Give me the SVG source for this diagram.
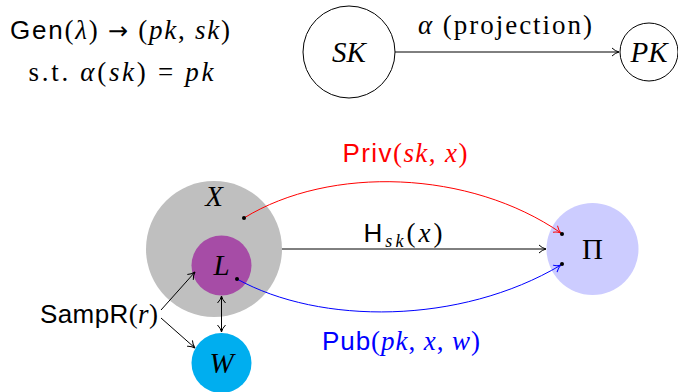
<svg xmlns="http://www.w3.org/2000/svg" width="678" height="392" viewBox="0 0 678 392">
<style>
text{font-family:"Liberation Serif","DejaVu Serif",serif;font-size:27px;fill:#000}
.sf{font-family:"Liberation Sans","DejaVu Sans",sans-serif;font-style:normal;font-size:26px}
.it{font-style:italic}
.c{text-anchor:middle}
.nl{font-size:29px}
.ln{fill:none;stroke:#000;stroke-width:1}
</style>
<defs>
<marker id="ahk" viewBox="0 0 10 10" refX="9" refY="5" markerWidth="10" markerHeight="10" markerUnits="userSpaceOnUse" orient="auto-start-reverse">
<path d="M2,1 Q5,4 9,5 Q5,6 2,9" fill="none" stroke="#000" stroke-width="1"/>
</marker>
<marker id="ahr" viewBox="0 0 10 10" refX="9" refY="5" markerWidth="10" markerHeight="10" markerUnits="userSpaceOnUse" orient="auto">
<path d="M2,1 Q5,4 9,5 Q5,6 2,9" fill="none" stroke="#f00" stroke-width="1"/>
</marker>
<marker id="ahb" viewBox="0 0 10 10" refX="9" refY="5" markerWidth="10" markerHeight="10" markerUnits="userSpaceOnUse" orient="auto">
<path d="M2,1 Q5,4 9,5 Q5,6 2,9" fill="none" stroke="#00f" stroke-width="1"/>
</marker>
</defs>

<g id="gen-text">
<text class="c" x="120" y="39" textLength="220" lengthAdjust="spacing"><tspan class="sf">Gen</tspan>(<tspan class="it">λ</tspan>) <tspan font-family="DejaVu Sans, sans-serif" font-size="24">→</tspan> (<tspan class="it">pk</tspan>, <tspan class="it">sk</tspan>)</text>
<text class="c" x="121" y="81" textLength="185" lengthAdjust="spacing">s.t.  <tspan class="it">α</tspan>(<tspan class="it">sk</tspan>) = <tspan class="it">pk</tspan></text>
</g>

<g id="SK"><circle cx="349" cy="52" r="46" fill="#fff" stroke="#000"/><text class="c it nl" x="349" y="62">SK</text></g>
<g id="PK"><circle cx="649" cy="52" r="29" fill="#fff" stroke="#000"/><text class="c it nl" x="649" y="62">PK</text></g>

<g id="X"><circle cx="214" cy="249" r="68" fill="#bfbfbf"/><text class="c it nl" x="214" y="206">X</text></g>
<g id="L"><circle cx="221.5" cy="265.5" r="30" fill="#a64ca6"/><text class="c it nl" x="221.5" y="275">L</text></g>
<g id="W"><circle cx="221.5" cy="363" r="30" fill="#00aeef"/><text class="c it nl" x="221.5" y="373">W</text></g>
<g id="Pi"><circle cx="592.5" cy="249" r="46" fill="#ccccff"/><text class="c nl" x="592.5" y="259">Π</text></g>
<g id="SampR"><text x="40" y="323" textLength="118" lengthAdjust="spacing"><tspan class="sf">SampR</tspan>(<tspan class="it">r</tspan>)</text></g>

<g id="connectors">
<line class="ln" x1="395" y1="52" x2="619" y2="52" marker-end="url(#ahk)"/>
<text class="c" x="505" y="34" textLength="174" lengthAdjust="spacing"><tspan class="it">α</tspan>  (projection)</text>

<line class="ln" x1="282" y1="249" x2="546" y2="249" marker-end="url(#ahk)"/>
<text class="c" x="403" y="242" textLength="79" lengthAdjust="spacing"><tspan class="sf">H</tspan><tspan class="it" font-size="18" dy="5">sk</tspan><tspan dy="-5">(</tspan><tspan class="it">x</tspan>)</text>

<path d="M244,218 C330,165 470,170 561,233" fill="none" stroke="#f00" stroke-width="1" marker-end="url(#ahr)"/>
<circle cx="244" cy="218" r="2" fill="#000"/>
<circle cx="562" cy="234" r="2" fill="#000"/>
<text class="c" x="405" y="162" textLength="125" lengthAdjust="spacing" style="fill:#f00"><tspan class="sf">Priv</tspan>(<tspan class="it">sk</tspan>, <tspan class="it">x</tspan>)</text>

<path d="M237,279 C320,325 460,325 561,265" fill="none" stroke="#00f" stroke-width="1" marker-end="url(#ahb)"/>
<circle cx="237" cy="279" r="2" fill="#000"/>
<circle cx="562" cy="264" r="2" fill="#000"/>
<text class="c" x="401" y="350" textLength="158" lengthAdjust="spacing" style="fill:#00f"><tspan class="sf">Pub</tspan>(<tspan class="it">pk</tspan>, <tspan class="it">x</tspan>, <tspan class="it">w</tspan>)</text>

<line class="ln" x1="161" y1="310" x2="195" y2="272" marker-end="url(#ahk)"/>
<line class="ln" x1="161" y1="318" x2="195" y2="348" marker-end="url(#ahk)"/>
<line class="ln" x1="221.5" y1="296" x2="221.5" y2="332" marker-start="url(#ahk)" marker-end="url(#ahk)"/>
</g>
</svg>
